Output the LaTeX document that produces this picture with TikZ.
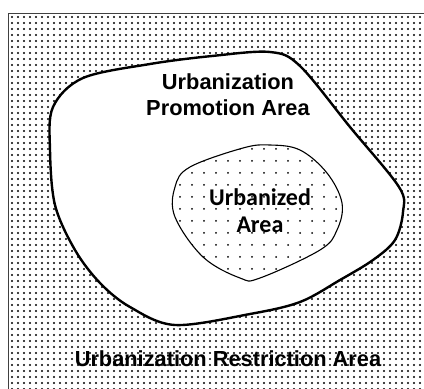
\documentclass[tikz,border=0pt]{standalone}
\usepackage{fontspec}
\setmainfont{Liberation Sans}
\newfontfamily\carlito{Carlito}
\usetikzlibrary{patterns}

\pgfdeclarepatternformonly{densedots}{\pgfqpoint{-1.5pt}{-1.5pt}}{\pgfqpoint{1.5pt}{1.5pt}}{\pgfqpoint{6pt}{6pt}}{
  \pgfpathcircle{\pgfqpoint{0pt}{0pt}}{1.05pt}
  \pgfpathcircle{\pgfqpoint{3pt}{3pt}}{1.05pt}
  \pgfusepath{fill}
}
\pgfdeclarepatternformonly{sparsedots}{\pgfqpoint{-1.5pt}{-1.5pt}}{\pgfqpoint{1.5pt}{1.5pt}}{\pgfqpoint{12pt}{12pt}}{
  \pgfpathcircle{\pgfqpoint{0pt}{0pt}}{1pt}
  \pgfpathcircle{\pgfqpoint{6pt}{6pt}}{1pt}
  \pgfusepath{fill}
}

\tikzset{
  region/.style={line width=2.4pt, fill=white, line join=round},
  core/.style={line width=1.1pt, fill=white, postaction={pattern=sparsedots}},
  bigtext/.style={font=\bfseries\fontsize{21.8}{26}\selectfont, align=center},
  coretext/.style={font=\carlito\bfseries\fontsize{24}{27}\selectfont, align=center}
}

\begin{document}
\begin{tikzpicture}[x=1pt,y=-1pt]
  \useasboundingbox (0,0) rectangle (424,389);
  \fill[pattern=densedots] (8,13) rectangle (424,389);
  \draw[line width=1pt, black!75] (8,389) -- (8,13) -- (424,13);

  \draw[region] plot[smooth cycle, tension=0.55] coordinates {
    (53,107) (83,78) (150,64) (212,56) (270,52) (300,66) (350,127) (399,187)
    (403,212) (395,240) (373,260) (340,280) (300,302) (250,314) (175,325)
    (130,307) (100,283) (75,250) (55,205) (50,150)};

  \draw[core] plot[smooth cycle, tension=0.6] coordinates {
    (243,148) (270,145) (300,150) (327,173) (342,203) (337,230) (320,250)
    (260,278) (240,278) (203,257) (175,217) (175,187) (190,167)};

  \node[bigtext] (promo) at (228,95) {Urbanization\\Promotion Area};
  \node[coretext] (urban) at (260,211) {Urbanized\\Area};
  \node[bigtext] (restrict) at (228,359) {Urbanization Restriction Area};
\end{tikzpicture}
\end{document}
